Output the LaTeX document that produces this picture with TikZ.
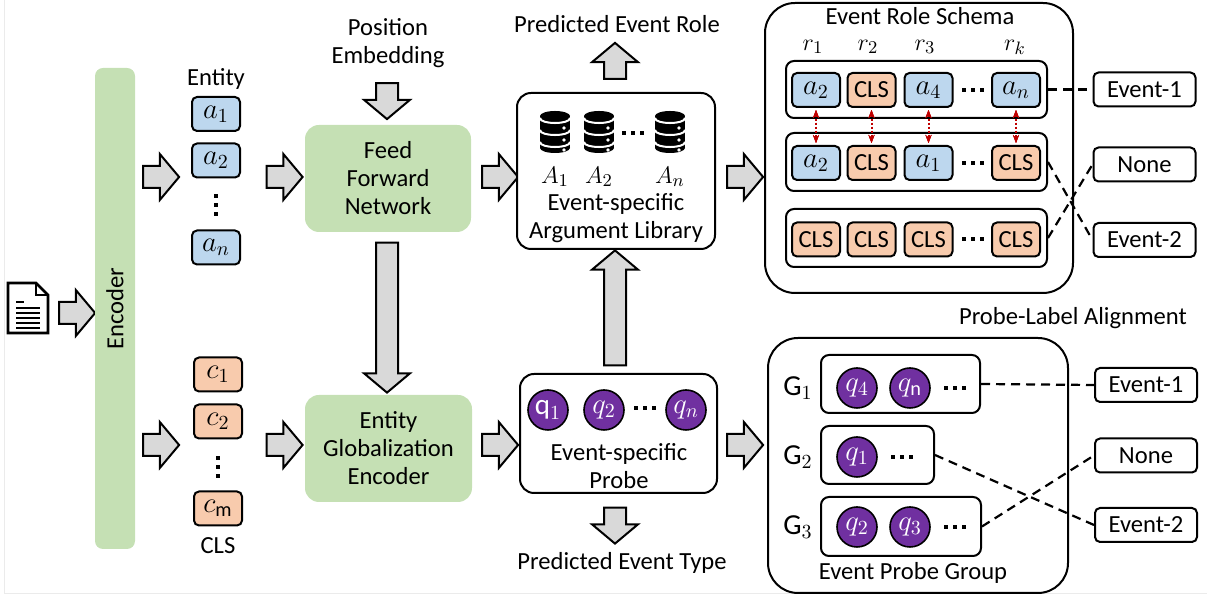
\documentclass[tikz,border=0pt]{standalone}
\usepackage{fontspec}
\setmainfont{Carlito}
\usetikzlibrary{shapes.arrows,arrows.meta}
\definecolor{entblue}{HTML}{BDD7EE}
\definecolor{clsorange}{HTML}{F8CBAD}
\definecolor{encgreen}{HTML}{C5E0B4}
\definecolor{probepurple}{HTML}{7030A0}
\definecolor{arrgray}{HTML}{D9D9D9}
\definecolor{matchred}{HTML}{C00000}

\newcommand{\hdotsq}[2]{\foreach \d in {-9,0,9} \fill ({#1+\d-2},{#2-2}) rectangle ++(4,4);}
\newcommand{\vdotsq}[2]{\foreach \d in {-9,0,9} \fill ({#1-2},{#2+\d-2}) rectangle ++(4,4);}
\newcommand{\dbicon}[2]{%
  \begin{scope}[shift={(#1,#2)}]
    \fill (0,-15) ellipse [x radius=15, y radius=5];
    \fill (-15,-15) rectangle (15,17);
    \fill (0,17) ellipse [x radius=15, y radius=5];
    \foreach \s in {-13,-1,11}
      \draw[white, line width=1pt] (-15,\s) .. controls (-15,{\s+6.7}) and (15,{\s+6.7}) .. (15,\s);
    \foreach \s in {-3,9,19} \fill[white] (9,\s) circle (0.9pt);
  \end{scope}}

\tikzset{
  cell/.style={draw, line width=1pt, rounded corners=2.5pt, minimum width=24pt, minimum height=17pt, inner sep=0pt},
  ent/.style={cell, fill=entblue, mathbig},
  cls/.style={cell, fill=clsorange},
  mathbig/.style={font=\fontsize{14.5}{15}\selectfont},
  grn/.style={fill=encgreen, rounded corners=7pt, inner sep=0pt},
  panel/.style={draw, line width=1pt, rounded corners=7pt, fill=white, inner sep=0pt},
  probe/.style={circle, draw, line width=0.8pt, fill=probepurple, text=white, minimum size=20pt, inner sep=0pt, mathbig},
  lab/.style={draw, line width=1pt, rounded corners=2.5pt, minimum width=51pt, minimum height=17pt, inner sep=0pt},
  fat/.style={single arrow, draw, line width=1pt, fill=arrgray, minimum width=22pt, minimum height=18pt,
    single arrow head extend=6pt, single arrow tip angle=100, inner sep=5pt},
  match/.style={matchred, densely dotted, line width=1pt, {Stealth[length=4pt]}-{Stealth[length=4pt]}, shorten <=1pt, shorten >=1pt},
  link/.style={line width=1.1pt, dash pattern=on 4.5pt off 3pt}
}

\begin{document}
\begin{tikzpicture}[x=0.5pt, y=-0.5pt, font=\fontsize{12.3}{14}\selectfont]
\useasboundingbox (0,0) rectangle (1207,597);
\draw[black!8] (4,0) -- (4,593) -- (1207,593);

% input document
\node[minimum width=20pt, minimum height=25pt, inner sep=0pt] (doc) at (28,308) {};
\draw[line width=1.4pt] (8,283) -- (36,283) -- (48,295) -- (48,333) -- (8,333) -- cycle;
\draw[line width=1.2pt] (36,283) -- (36,295) -- (48,295);
\draw[line width=1pt] (16,302) -- (24,302);
\foreach \y in {308,313,318,323,328} \draw[line width=1pt] (16,\y) -- (40,\y);
\node[fat] (doc2enc) at (72.5,313) {};

% encoder
\node[grn, rounded corners=4pt, minimum width=20pt, minimum height=240.5pt] (enc) at (115,308.5) {};
\node[rotate=90] at (enc) {Encoder};

% entity and cls columns
\node at (216,79) {Entity};
\node[ent] (a1) at (216,114) {$a_1$};
\node[ent] (a2) at (216,160.5) {$a_2$};
\vdotsq{216}{205}
\node[ent] (an) at (216,247.5) {$a_n$};
\node[cls, mathbig] (c1) at (218,374.5) {$c_1$};
\node[cls, mathbig] (c2) at (218,421.5) {$c_2$};
\vdotsq{218}{467}
\node[cls, mathbig] (cm) at (218,508.5) {$c_{\mathrm{m}}$};
\node at (218,546) {CLS};

% horizontal block arrows
\foreach \x [count=\i] in {156.5,280,495.5,740.5} {
  \node[fat] (up\i) at (\x,177) {};
  \node[fat] (lo\i) at (\x,445) {};
}

% green blocks
\node[align=center] (posemb) at (388,43) {Position\\Embedding};
\node[fat, shape border rotate=270] (pe2ffn) at (387,96.5) {};
\node[grn, minimum width=83pt, minimum height=53.5pt, align=center] (ffn) at (388,178.5) {Feed\\Forward\\Network};
\node[fat, shape border rotate=270, minimum height=75pt] (ffn2ege) at (387,313) {};
\node[grn, minimum width=83.5pt, minimum height=53.5pt, align=center] (ege) at (388.5,448.5) {Entity\\Globalization\\Encoder};

% argument library
\node at (617,24) {Predicted Event Role};
\node[fat, shape border rotate=90] (roleout) at (615,65.5) {};
\node[panel, minimum width=99pt, minimum height=78pt] (lib) at (616,171) {};
\dbicon{555}{131} \dbicon{599}{131} \dbicon{670}{131}
\hdotsq{633}{133}
\node (A1) at (555,177) {$A_1$};
\node (A2) at (599,177) {$A_2$};
\node (An) at (670,177) {$A_n$};
\node[align=center] at (616,218) {Event-specific\\Argument Library};
\node[fat, shape border rotate=90, minimum height=57.5pt] (prb2lib) at (615,312.5) {};

% probes
\node[panel, minimum width=98.5pt, minimum height=59.5pt] (prb) at (618.5,433.5) {};
\node[probe] (q1) at (548,410) {$\mathrm{q}_1$};
\node[probe] (q2) at (604,410) {$q_2$};
\node[probe] (qn) at (686,410) {$q_n$};
\hdotsq{645}{408}
\node[align=center] at (619,466) {Event-specific\\Probe};
\node[fat, shape border rotate=270] (typeout) at (615,521) {};
\node at (622,563) {Predicted Event Type};

% event role schema
\node[panel, rounded corners=15pt, minimum width=154pt, minimum height=145pt] (ers) at (919,148) {};
\node[inner sep=0pt] at (920,16) {Event Role Schema};
\foreach \x/\r in {813/1, 868/2, 925/3, 1015/k} \node[inner sep=0pt] at (\x,47) {$r_{\r}$};
\node[panel, rounded corners=4pt, minimum width=130.5pt, minimum height=28.5pt] (row1) at (916.5,89.5) {};
\node[panel, rounded corners=4pt, minimum width=130.5pt, minimum height=29pt] (row2) at (916.5,162) {};
\node[panel, rounded corners=4pt, minimum width=130.5pt, minimum height=29pt] (row3) at (916.5,238) {};
\node[ent] (r1c1) at (816,90) {$a_2$};
\node[cls] (r1c2) at (871.5,90) {CLS};
\node[ent] (r1c3) at (928.5,90) {$a_4$};
\node[ent] (r1c4) at (1016,90) {$a_n$};
\node[ent] (r2c1) at (816,163) {$a_2$};
\node[cls] (r2c2) at (871.5,163) {CLS};
\node[ent] (r2c3) at (928.5,163) {$a_1$};
\node[cls] (r2c4) at (1016,163) {CLS};
\foreach \x [count=\i] in {816,871.5,928.5,1016} \node[cls] (r3c\i) at (\x,239.5) {CLS};
\foreach \y in {90,163,239.5} \hdotsq{973}{\y}
\foreach \i in {1,...,4} \draw[match] (r1c\i.south) -- (r2c\i.north);
\node[lab] (ev1) at (1144.5,89.5) {Event-1};
\node[lab] (none1) at (1144.5,164.5) {None};
\node[lab] (ev2) at (1144.5,240) {Event-2};
\draw[link] (row1.east) -- (ev1.west);
\draw[link] (row2.east) -- (ev2.west);
\draw[link] (row3.east) -- (none1.west);

% event probe group
\node at (1073,318) {Probe-Label Alignment};
\node[panel, rounded corners=15pt, minimum width=150pt, minimum height=127.5pt] (epg) at (918,465.5) {};
\node at (913,573) {Event Probe Group};
\node[panel, rounded corners=4pt, minimum width=79.5pt, minimum height=29pt] (g1) at (900.5,384) {};
\node[panel, rounded corners=4pt, minimum width=56.5pt, minimum height=29pt] (g2) at (877.5,455) {};
\node[panel, rounded corners=4pt, minimum width=80pt, minimum height=29.5pt] (g3) at (901,526.5) {};
\node[mathbig] at (798,388) {$\mathrm{G}_1$};
\node[mathbig] at (798,457) {$\mathrm{G}_2$};
\node[mathbig] at (798,527) {$\mathrm{G}_3$};
\node[probe] (g1q4) at (857,388) {$q_4$};
\node[probe] (g1qn) at (910,388) {$q_{\mathrm{n}}$};
\node[probe] (g2q1) at (857,457) {$q_1$};
\node[probe] (g3q2) at (857,527) {$q_2$};
\node[probe] (g3q3) at (910,527) {$q_3$};
\hdotsq{955}{388} \hdotsq{902}{457} \hdotsq{955}{527}
\node[lab] (pev1) at (1146,385) {Event-1};
\node[lab] (pnone) at (1146,455.5) {None};
\node[lab] (pev2) at (1146,525) {Event-2};
\draw[link] (g1.east) -- (pev1.west);
\draw[link] (g2.east) -- (pev2.west);
\draw[link] (g3.east) -- (pnone.west);
\end{tikzpicture}
\end{document}
